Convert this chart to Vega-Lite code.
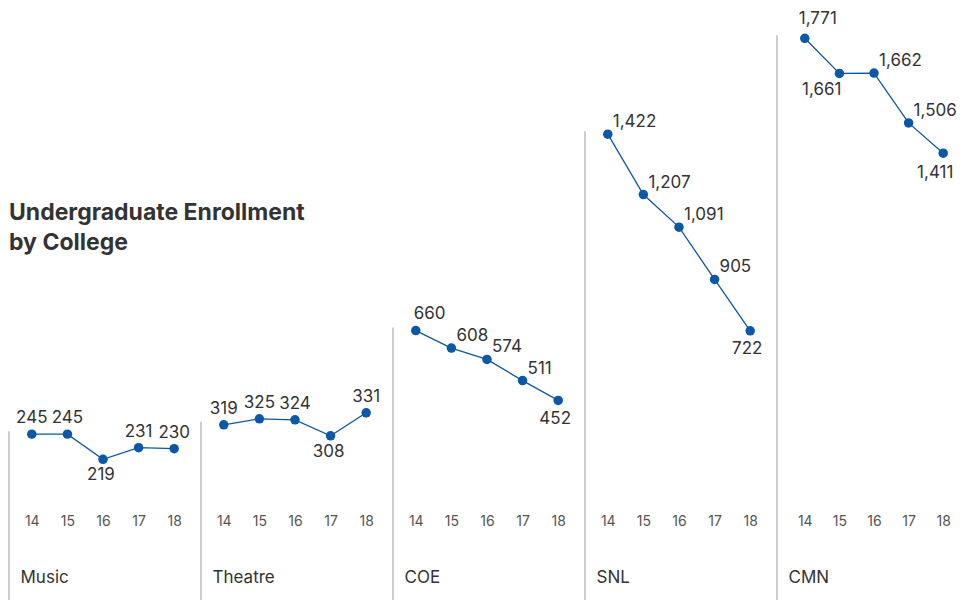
{
  "$schema": "https://vega.github.io/schema/vega-lite/v6.json",
  "padding": {"left": 8, "top": 0, "right": 0, "bottom": 0},
  "background": "#ffffff",
  "spacing": 0,
  "bounds": "flush",
  "title": {
    "text": ["Undergraduate Enrollment", "by College"],
    "anchor": "start",
    "frame": "group",
    "font": "Inter",
    "fontSize": 23,
    "fontWeight": "bold",
    "color": "#333333",
    "baseline": "top",
    "lineHeight": 30,
    "offset": 0,
    "dy": 255
  },
  "datasets": {
    "enroll": [
      {"college": "Music", "year": 14, "value": 245, "pos": "above"},
      {"college": "Music", "year": 15, "value": 245, "pos": "above"},
      {"college": "Music", "year": 16, "value": 219, "pos": "below"},
      {"college": "Music", "year": 17, "value": 231, "pos": "above"},
      {"college": "Music", "year": 18, "value": 230, "pos": "above"},
      {"college": "Theatre", "year": 14, "value": 319, "pos": "above"},
      {"college": "Theatre", "year": 15, "value": 325, "pos": "above"},
      {"college": "Theatre", "year": 16, "value": 324, "pos": "above"},
      {"college": "Theatre", "year": 17, "value": 308, "pos": "below"},
      {"college": "Theatre", "year": 18, "value": 331, "pos": "above"},
      {"college": "COE", "year": 14, "value": 660, "pos": "aboveRight"},
      {"college": "COE", "year": 15, "value": 608, "pos": "right"},
      {"college": "COE", "year": 16, "value": 574, "pos": "right"},
      {"college": "COE", "year": 17, "value": 511, "pos": "right"},
      {"college": "COE", "year": 18, "value": 452, "pos": "below"},
      {"college": "SNL", "year": 14, "value": 1422, "pos": "right"},
      {"college": "SNL", "year": 15, "value": 1207, "pos": "right"},
      {"college": "SNL", "year": 16, "value": 1091, "pos": "right"},
      {"college": "SNL", "year": 17, "value": 905, "pos": "right"},
      {"college": "SNL", "year": 18, "value": 722, "pos": "below"},
      {"college": "CMN", "year": 14, "value": 1771, "pos": "aboveRight"},
      {"college": "CMN", "year": 15, "value": 1661, "pos": "belowLeft"},
      {"college": "CMN", "year": 16, "value": 1662, "pos": "right"},
      {"college": "CMN", "year": 17, "value": 1506, "pos": "right"},
      {"college": "CMN", "year": 18, "value": 1411, "pos": "below"}
    ]
  },
  "hconcat": [
    {
      "width": 192, "height": 600,
      "data": {"name": "enroll"},
      "transform": [{"filter": "datum.college === 'Music'"}],
      "encoding": {
        "x": {"field": "year", "type": "quantitative", "scale": {"domain": [13.36, 18.753], "nice": false, "zero": false},
              "axis": {"title": "Music", "values": [14, 15, 16, 17, 18], "format": "d", "offset": -90}},
        "y": {"field": "value", "type": "quantitative", "scale": {"domain": [73.9, 692.8], "nice": false, "zero": false}, "axis": null}
      },
      "layer": [
        {"transform": [{"filter": "datum.year === 14"}], "mark": {"type": "rule", "color": "#bdbdbd", "strokeWidth": 1.5, "yOffset": -3},
         "encoding": {"x": {"datum": 13.36}, "y2": {"datum": 73.9}}},
        {"mark": {"type": "line", "color": "#0d57a8", "strokeWidth": 1.3}},
        {"mark": {"type": "point", "filled": true, "opacity": 1, "color": "#0d57a8", "size": 90}},
        {"transform": [{"filter": "datum.pos === 'above'"}], "mark": {"type": "text", "font": "Inter", "fontSize": 17, "color": "#333333", "baseline": "middle", "align": "center", "dy": -16},
         "encoding": {"text": {"field": "value", "format": ","}}},
        {"transform": [{"filter": "datum.pos === 'below'"}], "mark": {"type": "text", "font": "Inter", "fontSize": 17, "color": "#333333", "baseline": "middle", "align": "center", "dx": -2, "dy": 16},
         "encoding": {"text": {"field": "value", "format": ","}}}
      ]
    },
    {
      "width": 192, "height": 600,
      "data": {"name": "enroll"},
      "transform": [{"filter": "datum.college === 'Theatre'"}],
      "encoding": {
        "x": {"field": "year", "type": "quantitative", "scale": {"domain": [13.36, 18.753], "nice": false, "zero": false},
              "axis": {"title": "Theatre", "values": [14, 15, 16, 17, 18], "format": "d", "offset": -90}},
        "y": {"field": "value", "type": "quantitative", "scale": {"domain": [143.8, 743.8], "nice": false, "zero": false}, "axis": null}
      },
      "layer": [
        {"transform": [{"filter": "datum.year === 14"}], "mark": {"type": "rule", "color": "#bdbdbd", "strokeWidth": 1.5, "yOffset": -3},
         "encoding": {"x": {"datum": 13.36}, "y2": {"datum": 143.8}}},
        {"mark": {"type": "line", "color": "#0d57a8", "strokeWidth": 1.3}},
        {"mark": {"type": "point", "filled": true, "opacity": 1, "color": "#0d57a8", "size": 90}},
        {"transform": [{"filter": "datum.pos === 'above'"}], "mark": {"type": "text", "font": "Inter", "fontSize": 17, "color": "#333333", "baseline": "middle", "align": "center", "dy": -16},
         "encoding": {"text": {"field": "value", "format": ","}}},
        {"transform": [{"filter": "datum.pos === 'below'"}], "mark": {"type": "text", "font": "Inter", "fontSize": 17, "color": "#333333", "baseline": "middle", "align": "center", "dx": -2, "dy": 16},
         "encoding": {"text": {"field": "value", "format": ","}}}
      ]
    },
    {
      "width": 192, "height": 600,
      "data": {"name": "enroll"},
      "transform": [{"filter": "datum.college === 'COE'"}],
      "encoding": {
        "x": {"field": "year", "type": "quantitative", "scale": {"domain": [13.36, 18.753], "nice": false, "zero": false},
              "axis": {"title": "COE", "values": [14, 15, 16, 17, 18], "format": "d", "offset": -90}},
        "y": {"field": "value", "type": "quantitative", "scale": {"domain": [-142.6, 1644.7], "nice": false, "zero": false}, "axis": null}
      },
      "layer": [
        {"transform": [{"filter": "datum.year === 14"}], "mark": {"type": "rule", "color": "#bdbdbd", "strokeWidth": 1.5, "yOffset": -3},
         "encoding": {"x": {"datum": 13.36}, "y2": {"datum": -142.6}}},
        {"mark": {"type": "line", "color": "#0d57a8", "strokeWidth": 1.3}},
        {"mark": {"type": "point", "filled": true, "opacity": 1, "color": "#0d57a8", "size": 90}},
        {"transform": [{"filter": "datum.pos === 'aboveRight'"}], "mark": {"type": "text", "font": "Inter", "fontSize": 17, "color": "#333333", "baseline": "middle", "align": "left", "dx": -2, "dy": -17},
         "encoding": {"text": {"field": "value", "format": ","}}},
        {"transform": [{"filter": "datum.pos === 'right'"}], "mark": {"type": "text", "font": "Inter", "fontSize": 17, "color": "#333333", "baseline": "middle", "align": "left", "dx": 5, "dy": -12},
         "encoding": {"text": {"field": "value", "format": ","}}},
        {"transform": [{"filter": "datum.pos === 'below'"}], "mark": {"type": "text", "font": "Inter", "fontSize": 17, "color": "#333333", "baseline": "middle", "align": "center", "dx": -3, "dy": 19},
         "encoding": {"text": {"field": "value", "format": ","}}}
      ]
    },
    {
      "width": 192, "height": 600,
      "data": {"name": "enroll"},
      "transform": [{"filter": "datum.college === 'SNL'"}],
      "encoding": {
        "x": {"field": "year", "type": "quantitative", "scale": {"domain": [13.36, 18.753], "nice": false, "zero": false},
              "axis": {"title": "SNL", "values": [14, 15, 16, 17, 18], "format": "d", "offset": -90}},
        "y": {"field": "value", "type": "quantitative", "scale": {"domain": [-236.4, 1899.6], "nice": false, "zero": false}, "axis": null}
      },
      "layer": [
        {"transform": [{"filter": "datum.year === 14"}], "mark": {"type": "rule", "color": "#bdbdbd", "strokeWidth": 1.5, "yOffset": -3},
         "encoding": {"x": {"datum": 13.36}, "y2": {"datum": -236.4}}},
        {"mark": {"type": "line", "color": "#0d57a8", "strokeWidth": 1.3}},
        {"mark": {"type": "point", "filled": true, "opacity": 1, "color": "#0d57a8", "size": 90}},
        {"transform": [{"filter": "datum.pos === 'right'"}], "mark": {"type": "text", "font": "Inter", "fontSize": 17, "color": "#333333", "baseline": "middle", "align": "left", "dx": 5, "dy": -12},
         "encoding": {"text": {"field": "value", "format": ","}}},
        {"transform": [{"filter": "datum.pos === 'below'"}], "mark": {"type": "text", "font": "Inter", "fontSize": 17, "color": "#333333", "baseline": "middle", "align": "center", "dx": -3, "dy": 18},
         "encoding": {"text": {"field": "value", "format": ","}}}
      ]
    },
    {
      "width": 185, "height": 600,
      "data": {"name": "enroll"},
      "transform": [{"filter": "datum.college === 'CMN'"}],
      "encoding": {
        "x": {"field": "year", "type": "quantitative", "scale": {"domain": [13.197, 18.543], "nice": false, "zero": false},
              "axis": {"title": "CMN", "values": [14, 15, 16, 17, 18], "format": "d", "offset": -90}},
        "y": {"field": "value", "type": "quantitative", "scale": {"domain": [10.8, 1891.1], "nice": false, "zero": false}, "axis": null}
      },
      "layer": [
        {"transform": [{"filter": "datum.year === 14"}], "mark": {"type": "rule", "color": "#bdbdbd", "strokeWidth": 1.5, "yOffset": -3},
         "encoding": {"x": {"datum": 13.197}, "y2": {"datum": 10.8}}},
        {"mark": {"type": "line", "color": "#0d57a8", "strokeWidth": 1.3}},
        {"mark": {"type": "point", "filled": true, "opacity": 1, "color": "#0d57a8", "size": 90}},
        {"transform": [{"filter": "datum.pos === 'aboveRight'"}], "mark": {"type": "text", "font": "Inter", "fontSize": 17, "color": "#333333", "baseline": "middle", "align": "left", "dx": -6, "dy": -19},
         "encoding": {"text": {"field": "value", "format": ","}}},
        {"transform": [{"filter": "datum.pos === 'right'"}], "mark": {"type": "text", "font": "Inter", "fontSize": 17, "color": "#333333", "baseline": "middle", "align": "left", "dx": 5, "dy": -12},
         "encoding": {"text": {"field": "value", "format": ","}}},
        {"transform": [{"filter": "datum.pos === 'belowLeft'"}], "mark": {"type": "text", "font": "Inter", "fontSize": 17, "color": "#333333", "baseline": "middle", "align": "right", "dx": 2, "dy": 17},
         "encoding": {"text": {"field": "value", "format": ","}}},
        {"transform": [{"filter": "datum.pos === 'below'"}], "mark": {"type": "text", "font": "Inter", "fontSize": 17, "color": "#333333", "baseline": "middle", "align": "center", "dx": -8, "dy": 20},
         "encoding": {"text": {"field": "value", "format": ","}}}
      ]
    }
  ],
  "config": {
    "view": {"stroke": null},
    "concat": {"spacing": 0},
    "axis": {
      "domain": false, "ticks": false, "tickSize": 0, "grid": false,
      "labelFont": "Inter", "labelFontSize": 14, "labelColor": "#555555", "labelPadding": 4,
      "titleFont": "Inter", "titleFontSize": 17, "titleFontWeight": "normal", "titleColor": "#333333",
      "titleX": 11, "titleY": 67, "titleAlign": "left", "titleBaseline": "middle"
    }
  }
}
